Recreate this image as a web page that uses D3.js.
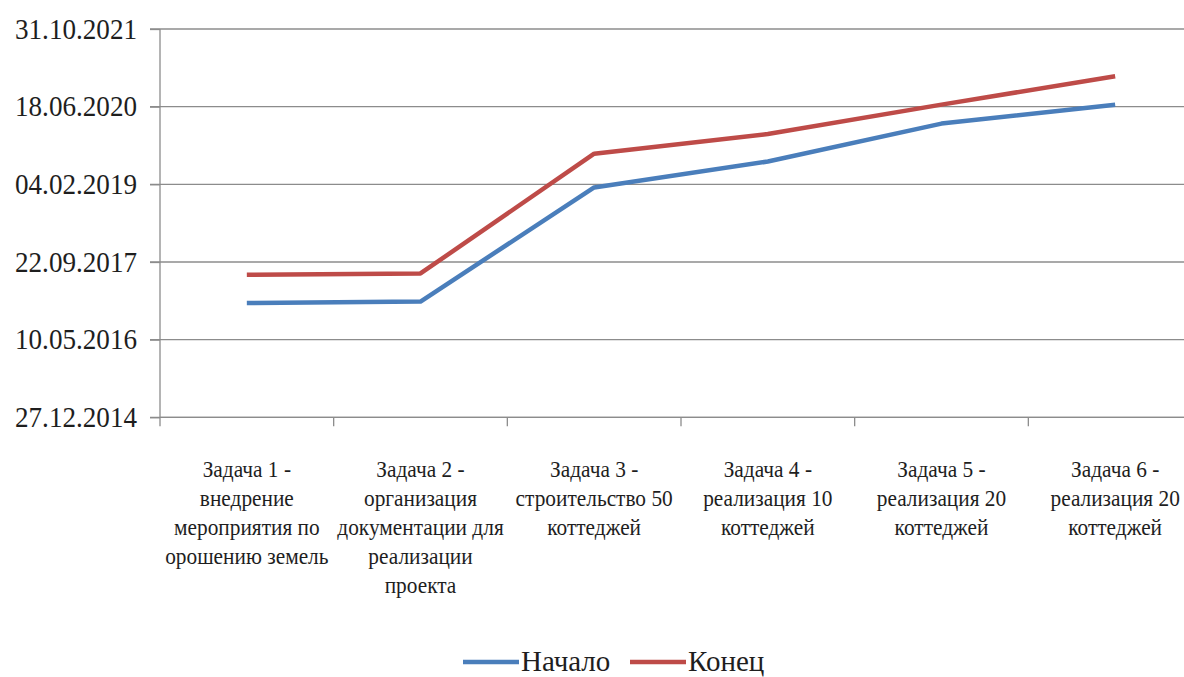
<html>
<head>
<meta charset="utf-8">
<script src="https://cdn.jsdelivr.net/npm/d3@7"></script>
</head>
<body style="margin:0">
<script>
var categories = [
  ["Задача 1 -", "внедрение", "мероприятия по", "орошению земель"],
  ["Задача 2 -", "организация", "документации для", "реализации", "проекта"],
  ["Задача 3 -", "строительство 50", "коттеджей"],
  ["Задача 4 -", "реализация 10", "коттеджей"],
  ["Задача 5 -", "реализация 20", "коттеджей"],
  ["Задача 6 -", "реализация 20", "коттеджей"]
];
var startDates = ["01.01.2017", "10.01.2017", "15.01.2019", "01.07.2019", "01.03.2020", "01.07.2020"];
var endDates = ["01.07.2017", "10.07.2017", "20.08.2019", "25.12.2019", "01.07.2020", "31.12.2020"];
var yTicks = ["27.12.2014", "10.05.2016", "22.09.2017", "04.02.2019", "18.06.2020", "31.10.2021"];
var seriesNames = ["Начало", "Конец"];
var colors = ["#4a7ebb", "#be4b48"];

var parse = d3.timeParse("%d.%m.%Y");
var fmt = d3.timeFormat("%d.%m.%Y");
var FONT = "'Liberation Serif'";
var TXT = "#1e1e1e";
var GRID = "#8c8c8c";

var W = 1184, H = 677;
var plotLeft = 160, plotRight = 1202, plotTop = 29, plotBottom = 417.3;

var svg = d3.select("body").append("svg")
  .attr("width", W)
  .attr("height", H)
  .style("font-family", FONT);

var x = d3.scaleBand()
  .domain(d3.range(categories.length))
  .range([plotLeft, plotRight]);

var tickDates = yTicks.map(parse);
var y = d3.scaleTime()
  .domain([tickDates[0], tickDates[tickDates.length - 1]])
  .range([plotBottom, plotTop]);

// gridlines
svg.append("g")
  .selectAll("line")
  .data(tickDates)
  .join("line")
  .attr("x1", plotLeft - 10)
  .attr("x2", W)
  .attr("y1", function(d) { return y(d); })
  .attr("y2", function(d) { return y(d); })
  .attr("stroke", GRID)
  .attr("stroke-width", 1.3);

var yAxis = svg.append("g")
  .attr("transform", "translate(" + plotLeft + ",0)")
  .call(d3.axisLeft(y).tickValues(tickDates).tickFormat(fmt).tickSize(10).tickPadding(13).tickSizeOuter(0));
yAxis.attr("font-family", null).attr("font-size", null);
yAxis.select(".domain").attr("stroke", GRID).attr("stroke-width", 1.3)
  .attr("d", "M0," + plotTop + "V" + (plotBottom + 9));
yAxis.selectAll(".tick line").attr("stroke", GRID).attr("stroke-width", 1.3);
yAxis.selectAll(".tick text")
  .style("font-family", FONT)
  .attr("font-size", 29)
  .attr("dy", "0.32em")
  .attr("textLength", 122)
  .attr("lengthAdjust", "spacingAndGlyphs")
  .attr("fill", TXT);

// x axis
var xg = svg.append("g");
xg.append("line")
  .attr("x1", plotLeft).attr("x2", W)
  .attr("y1", plotBottom).attr("y2", plotBottom)
  .attr("stroke", GRID).attr("stroke-width", 1.3);
xg.selectAll("line.xt")
  .data(d3.range(1, categories.length + 1))
  .join("line")
  .attr("class", "xt")
  .attr("x1", function(i) { return plotLeft + i * x.step(); })
  .attr("x2", function(i) { return plotLeft + i * x.step(); })
  .attr("y1", plotBottom).attr("y2", plotBottom + 9)
  .attr("stroke", GRID).attr("stroke-width", 1.3);

categories.forEach(function(lines, i) {
  lines.forEach(function(s, j) {
    xg.append("text")
      .attr("transform", "translate(" + (x(i) + x.bandwidth() / 2) + "," + (476.5 + j * 29) + ") scale(0.89,1)")
      .attr("text-anchor", "middle")
      .attr("fill", TXT)
      .attr("font-size", 24)
      .style("font-family", FONT)
      .text(s);
  });
});

// lines
var line = d3.line()
  .x(function(d, i) { return x(i) + x.bandwidth() / 2; })
  .y(function(d) { return y(parse(d)); });

[startDates, endDates].forEach(function(s, k) {
  svg.append("path")
    .datum(s)
    .attr("fill", "none")
    .attr("stroke", colors[k])
    .attr("stroke-width", 4.5)
    .attr("stroke-linejoin", "round")
    .attr("d", line);
});

// legend
var lx = [463, 630];
seriesNames.forEach(function(name, k) {
  svg.append("line")
    .attr("x1", lx[k]).attr("x2", lx[k] + 56)
    .attr("y1", 662).attr("y2", 662)
    .attr("stroke", colors[k])
    .attr("stroke-width", 4.5);
  svg.append("text")
    .attr("x", lx[k] + 58)
    .attr("y", 671)
    .attr("fill", TXT)
    .attr("font-size", 29)
    .style("font-family", FONT)
    .text(name);
});
</script>
</body>
</html>
